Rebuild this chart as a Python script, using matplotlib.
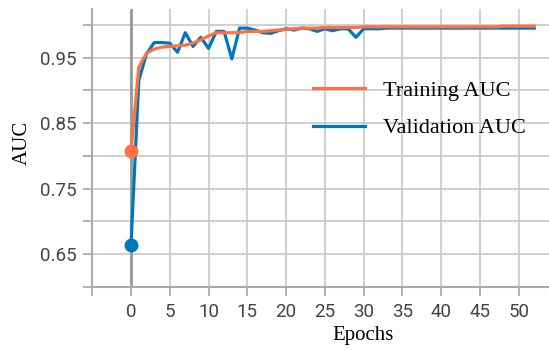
import matplotlib
matplotlib.use("Agg")
import matplotlib.pyplot as plt
from matplotlib.ticker import NullFormatter

# AUC per epoch, 0..52
epochs = list(range(53))
train_auc = [0.807, 0.935, 0.957, 0.963, 0.966, 0.967, 0.968, 0.969, 0.972, 0.977,
             0.983, 0.988, 0.988, 0.988, 0.988, 0.990, 0.990, 0.990, 0.991, 0.992,
             0.993, 0.994, 0.995, 0.995, 0.995, 0.996, 0.996, 0.996, 0.996, 0.996,
             0.997, 0.997, 0.997, 0.997, 0.997, 0.997, 0.997, 0.997, 0.997, 0.997,
             0.997, 0.997, 0.997, 0.997, 0.997, 0.997, 0.997, 0.997, 0.998, 0.998,
             0.998, 0.998, 0.998]
val_auc = [0.664, 0.915, 0.956, 0.973, 0.973, 0.972, 0.958, 0.988, 0.967, 0.981,
           0.964, 0.990, 0.990, 0.948, 0.995, 0.995, 0.992, 0.988, 0.987, 0.991,
           0.994, 0.992, 0.995, 0.994, 0.990, 0.994, 0.991, 0.994, 0.994, 0.981,
           0.994, 0.994, 0.994, 0.995, 0.995, 0.995, 0.995, 0.995, 0.995, 0.995,
           0.995, 0.995, 0.995, 0.995, 0.995, 0.995, 0.995, 0.995, 0.995, 0.995,
           0.995, 0.995, 0.995]

orange = "#FF7043"
blue = "#0077BB"
grey = "#AAAAAA"

fig = plt.figure(figsize=(5.49, 3.5), dpi=100)
ax = fig.add_axes([0.168, 0.18, 0.832, 0.794])

ax.axvline(0, color="#999999", lw=2, zorder=1)
ax.plot(epochs, val_auc, color=blue, lw=2.3, label="Validation AUC", zorder=3)
ax.plot(epochs, train_auc, color=orange, lw=2.3, label="Training AUC", zorder=4)
ax.plot(epochs[0], val_auc[0], "o", color=blue, ms=9, zorder=5)
ax.plot(epochs[0], train_auc[0], "o", color=orange, ms=9, zorder=5)

ax.set_xlim(-5, 53.9)
ax.set_ylim(0.6, 1.024)

# x ticks every 5, the one at -5 without a label
ax.set_xticks(range(-5, 55, 5))
ax.set_xticklabels([""] + [str(v) for v in range(0, 55, 5)])
# y labels only on the odd hundredths
ax.set_yticks([0.65, 0.75, 0.85, 0.95])
ax.set_yticks([0.6, 0.7, 0.8, 0.9, 1.0], minor=True)
ax.yaxis.set_minor_formatter(NullFormatter())

ax.grid(True, which="both", color="#CCCCCC", lw=1.3, zorder=0)
ax.set_axisbelow(True)
for side in ["top", "right"]:
    ax.spines[side].set_visible(False)
for side in ["left", "bottom"]:
    ax.spines[side].set_color(grey)
    ax.spines[side].set_linewidth(1.5)

ax.tick_params(which="both", length=6.5, width=1.3, color=grey,
               labelcolor="#444444", labelsize=13.5, pad=5)
for lbl in ax.get_xticklabels() + ax.get_yticklabels():
    lbl.set_fontfamily("Roboto")

ax.set_xlabel("Epochs", family="Liberation Serif", fontsize=15)
ax.xaxis.set_label_coords(0.593, -0.14)
ax.set_ylabel("AUC", family="Liberation Serif", fontsize=15)
ax.yaxis.set_label_coords(-0.133, 0.52)

handles, labels = ax.get_legend_handles_labels()
leg = ax.legend(handles[::-1], labels[::-1], loc="upper left",
                bbox_to_anchor=(0.44, 0.815), frameon=False,
                prop={"family": "Liberation Serif", "size": 16},
                handlelength=2.34, handletextpad=0.8, labelspacing=0.75)
for line in leg.get_lines():
    line.set_linewidth(2.3)

fig.savefig("out.png", dpi=100)
